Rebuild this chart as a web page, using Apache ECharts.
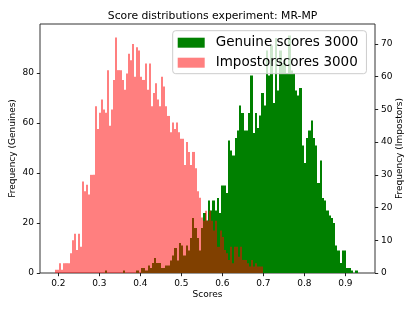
<!DOCTYPE html>
<html>
<head>
<meta charset="utf-8">
<script src="https://cdn.jsdelivr.net/npm/echarts@6/dist/echarts.min.js"></script>
<style>
html,body{margin:0;padding:0;background:#fff;}
#chart{width:415px;height:311px;}
</style>
</head>
<body>
<div id="chart"></div>
<script>
// ---- data ----
const titleText = 'Score distributions experiment: MR-MP';
const genuineName = 'Genuine scores 3000';
const impostorName = 'Impostorscores 3000';

// histogram ranges (score) and bin counts
const genuineMin = 0.314;
const genuineMax = 0.930;
const genuineCounts = [
  1,0,0,0,0,0,0,0,1,0,0,0,0,0,1,0,2,2,1,3,2,4,6,4,4,2,2,3,3,5,
  7,10,5,12,11,7,11,9,14,22,18,14,9,18,24,21,29,25,29,25,30,24,35,35,32,53,49,47,54,
  57,67,64,57,57,64,79,56,64,58,63,72,
  67,89,79,91,68,94,73,89,84,86,80,95,81,80,
  73,71,74,51,44,54,57,61,54,51,36,45,30,29,25,23,22,20,11,9,4,9,9,2,2,1,0,1
];

const impostorMin = 0.192;
const impostorMax = 0.700;
const impostorCounts = [
  1,1,3,1,3,3,3,6,10,12,7,12,8,
  28,25,27,24,30,30,
  51,44,49,53,50,49,
  62,45,50,59,72,
  62,62,59,56,61,67,
  65,70,60,69,68,
  60,59,64,56,64,
  51,55,58,53,51,60,
  57,51,48,43,46,
  44,46,43,41,41,33,
  40,37,33,37,32,
  25,23,17,16,19,16,
  19,16,13,16,8,13,11,7,6,4,8,3,8,
  8,5,8,4,4,3,2,4,2,3,2,2,2
];

const xTicks = [0.2,0.3,0.4,0.5,0.6,0.7,0.8,0.9];
const yLeftTicks = [0,20,40,60,80];
const yRightTicks = [0,10,20,30,40,50,60,70];
const xRange = [0.1554, 0.9724];
const yLeftMax = 99.6;
const yRightMax = 76.1;

// ---- build histogram bins ----
function bins(min, max, counts) {
  const w = (max - min) / counts.length;
  return counts.map((c, i) => [min + i * w, min + (i + 1) * w, c]);
}

function renderBins(params, api) {
  const p0 = api.coord([api.value(0), 0]);
  const p1 = api.coord([api.value(1), api.value(2)]);
  const xa = Math.round(p0[0]), xb = Math.round(p1[0]);
  return {
    type: 'rect',
    shape: { x: xa, y: p1[1], width: xb - xa, height: p0[1] - p1[1] },
    style: api.style()
  };
}

const FONT = 'DejaVu Sans';
const chart = echarts.init(document.getElementById('chart'), null, { renderer: 'canvas' });

const tickStyle = { show: true, inside: false, length: 3.2, lineStyle: { color: '#222', width: 1 } };

chart.setOption({
  animation: false,
  backgroundColor: '#fff',
  textStyle: { fontFamily: FONT },
  title: {
    text: titleText,
    left: 207.5,
    textAlign: 'center',
    top: 6,
    textStyle: { fontFamily: FONT, fontSize: 10.8, fontWeight: 'normal', color: '#000' }
  },
  grid: {
    left: 40, right: 40, top: 24, bottom: 38,
    containLabel: false,
    outerBoundsMode: 'none',
    show: true, borderColor: '#333', borderWidth: 1, backgroundColor: 'transparent'
  },
  legend: {
    orient: 'vertical',
    left: 172.7,
    top: 30.7,
    z: 20,
    padding: [4, 8, 3, 5],
    itemWidth: 27,
    itemHeight: 10,
    itemGap: 4,
    icon: 'rect',
    backgroundColor: 'rgba(255,255,255,0.8)',
    borderColor: '#cccccc',
    borderWidth: 1,
    borderRadius: 3,
    data: [genuineName, impostorName],
    textStyle: { fontFamily: FONT, fontSize: 13.5, color: '#000', lineHeight: 16, padding: [0, 0, 0, 6] }
  },
  xAxis: {
    type: 'value',
    min: xRange[0], max: xRange[1],
    name: 'Scores',
    nameLocation: 'middle',
    nameGap: 17,
    nameMoveOverlap: false,
    nameTextStyle: { fontFamily: FONT, fontSize: 9, color: '#000' },
    axisLine: { show: false },
    splitLine: { show: false },
    axisTick: Object.assign({ customValues: xTicks }, tickStyle),
    axisLabel: {
      customValues: xTicks,
      formatter: v => v.toFixed(1),
      fontFamily: FONT, fontSize: 9, color: '#000', margin: 6
    }
  },
  yAxis: [
    {
      type: 'value',
      position: 'left',
      min: 0, max: yLeftMax,
      name: 'Frequency (Genuines)',
      nameLocation: 'middle',
      nameGap: 23,
      nameMoveOverlap: false,
      nameTextStyle: { fontFamily: FONT, fontSize: 9, color: '#000' },
      axisLine: { show: false },
      splitLine: { show: false },
      axisTick: Object.assign({ customValues: yLeftTicks }, tickStyle),
      axisLabel: { customValues: yLeftTicks, fontFamily: FONT, fontSize: 9, color: '#000', margin: 6 }
    },
    {
      type: 'value',
      position: 'right',
      min: 0, max: yRightMax,
      name: 'Frequency (Impostors)',
      nameLocation: 'middle',
      nameGap: 20,
      nameMoveOverlap: false,
      nameTextStyle: { fontFamily: FONT, fontSize: 9, color: '#000' },
      axisLine: { show: false },
      splitLine: { show: false },
      axisTick: Object.assign({ customValues: yRightTicks }, tickStyle),
      axisLabel: { customValues: yRightTicks, fontFamily: FONT, fontSize: 9, color: '#000', margin: 6 }
    }
  ],
  series: [
    {
      name: genuineName,
      type: 'custom',
      xAxisIndex: 0,
      yAxisIndex: 0,
      renderItem: renderBins,
      encode: { x: [0, 1], y: 2 },
      itemStyle: { color: '#008000' },
      data: bins(genuineMin, genuineMax, genuineCounts),
      z: 1
    },
    {
      name: impostorName,
      type: 'custom',
      xAxisIndex: 0,
      yAxisIndex: 1,
      renderItem: renderBins,
      encode: { x: [0, 1], y: 2 },
      itemStyle: { color: 'rgba(255,0,0,0.5)' },
      data: bins(impostorMin, impostorMax, impostorCounts),
      z: 2
    }
  ]
});
</script>
</body>
</html>
